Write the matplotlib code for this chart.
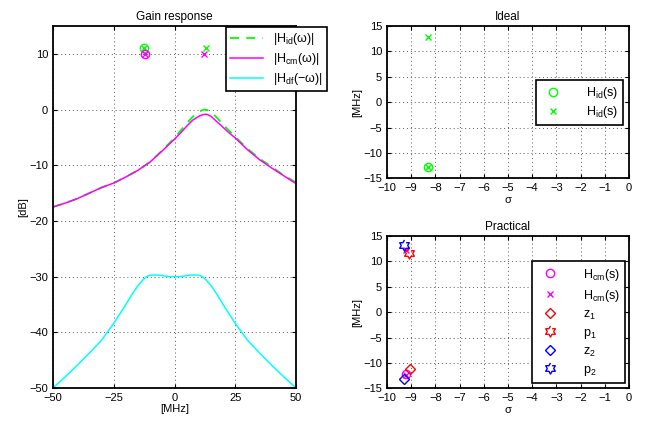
import numpy as np
import matplotlib
matplotlib.use('Agg')
import matplotlib.pyplot as plt

plt.rcParams['font.family'] = ['Liberation Sans', 'DejaVu Sans']
plt.rcParams['font.size'] = 8
plt.rcParams['mathtext.fontset'] = 'custom'
plt.rcParams['mathtext.rm'] = 'Liberation Sans'

# gain response curves
f_mhz = [-50, -45, -40, -35, -30, -25, -20, -15, -10, -5, 0, 2.5, 5, 7.5, 10, 11.5, 12.5, 13.5, 15, 17.5, 20, 22.5, 25, 30, 35, 40, 45, 50]
h_id = [-17.5, -16.8, -16.0, -15.0, -14.0, -13.2, -12.1, -10.9, -9.4, -7.3, -5.1, -3.8, -2.5, -1.3, -0.45, -0.1, 0.0, -0.1, -0.4, -1.5, -2.7, -3.8, -4.9, -7.0, -8.8, -10.3, -11.8, -13.1]
h_cm = [-17.5, -16.8, -16.0, -15.0, -14.0, -13.2, -12.1, -10.9, -9.4, -7.4, -5.3, -4.2, -3.0, -1.9, -1.2, -0.95, -0.85, -0.9, -1.2, -2.2, -3.2, -4.2, -5.1, -7.2, -9.0, -10.5, -11.9, -13.3]
f_df = [-50, -45, -40, -35, -30, -25, -20, -17.5, -15, -13, -11.5, -10, -8, -6, -4, -2, 0,
        2, 4, 6, 8, 10, 11.5, 13, 15, 17.5, 20, 25, 30, 35, 40, 45, 50]
h_df = [-50.0, -48.0, -45.9, -43.7, -41.4, -38.4, -35.0, -33.2, -31.6, -30.6, -30.0, -29.75, -29.7, -29.75, -29.9, -30.0, -30.0,
        -30.0, -29.9, -29.75, -29.7, -29.75, -30.0, -30.6, -31.6, -33.2, -35.0, -38.4, -41.4, -43.7, -45.9, -48.0, -50.0]

# zeros / poles drawn on the gain plot (imag part, level)
id_zero_f, id_zero_db = [-12.4], [11.0]
id_pole_f, id_pole_db = [-12.4, 12.8], [11.0, 11.0]
cm_zero_f, cm_zero_db = [-12.2], [10.0]
cm_pole_f, cm_pole_db = [-12.2, 12.3], [10.0, 10.0]

# pole-zero maps
id_z_re, id_z_im = [-8.3], [-12.8]
id_p_re, id_p_im = [-8.3, -8.3], [12.8, -12.8]
cm_z_re, cm_z_im = [-9.2], [-12.1]
cm_p_re, cm_p_im = [-9.2, -9.2], [12.3, -12.3]
z1_re, z1_im = [-9.05], [-11.2]
p1_re, p1_im = [-9.1], [11.6]
z2_re, z2_im = [-9.3], [-13.2]
p2_re, p2_im = [-9.3], [13.3]

# MATLAB-like hexagram marker
ang = np.deg2rad(90 + 30 * np.arange(12))
rad = np.where(np.arange(12) % 2 == 0, 1.0, 0.577)
hexagram = list(zip(rad * np.cos(ang), rad * np.sin(ang)))

G, M, C = (0, 1, 0), (1, 0, 1), (0, 1, 1)


def style(ax):
    ax.grid(True, linestyle=(0, (1, 3)), color='0.35', linewidth=0.7)
    ax.tick_params(direction='in', top=True, right=True, length=3, width=0.8, labelsize=8)
    for s in ax.spines.values():
        s.set_linewidth(1.3)


def box(leg):
    leg.get_frame().set_linewidth(1.2)


fig = plt.figure(figsize=(6.45, 4.24), dpi=100)

ax1 = fig.add_axes([0.0822, 0.0849, 0.3767, 0.8538])
ax1.plot(f_mhz, h_id, color=G, linestyle=(0, (5, 4)), linewidth=1.3, label='|H$_{\\mathregular{id}}$(ω)|')
ax1.plot(f_mhz, h_cm, color=M, linewidth=1.1, label='|H$_{\\mathregular{cm}}$(ω)|')
ax1.plot(f_df, h_df, color=C, linewidth=1.1, label='|H$_{\\mathregular{df}}$(−ω)|')
ax1.plot(id_zero_f, id_zero_db, 'o', mfc='none', mec=G, ms=6, mew=1)
ax1.plot(id_pole_f, id_pole_db, 'x', color=G, ms=5, mew=1)
ax1.plot(cm_zero_f, cm_zero_db, 'o', mfc='none', mec=M, ms=6, mew=1)
ax1.plot(cm_pole_f, cm_pole_db, 'x', color=M, ms=5, mew=1)
ax1.set_xlim(-50, 50)
ax1.set_ylim(-50, 15)
ax1.set_xticks([-50, -25, 0, 25, 50])
ax1.set_yticks([-50, -40, -30, -20, -10, 0, 10])
ax1.set_title('Gain response', fontsize=8.5, pad=4)
ax1.set_xlabel('[MHz]', labelpad=1)
ax1.set_ylabel('[dB]', labelpad=1)
style(ax1)
box(ax1.legend(loc='upper left', bbox_to_anchor=(0.712, 0.998), borderaxespad=0, fancybox=False, edgecolor='k',
               framealpha=1, handlelength=2.6, borderpad=0.35, labelspacing=0.32, fontsize=9))

ax2 = fig.add_axes([0.600, 0.5795, 0.375, 0.3592])
ax2.plot(id_z_re, id_z_im, 'o', mfc='none', mec=G, ms=6, mew=1, label='H$_{\\mathregular{id}}$(s)')
ax2.plot(id_p_re, id_p_im, 'x', color=G, ms=4, mew=1, label='H$_{\\mathregular{id}}$(s)')
ax2.set_title('Ideal', fontsize=8.5, pad=4)
ax2.set_ylabel('[MHz]', labelpad=1)
ax2.set_xlabel('σ', labelpad=1)

ax3 = fig.add_axes([0.600, 0.0842, 0.375, 0.3592])
ax3.plot(cm_z_re, cm_z_im, 'o', mfc='none', mec=M, ms=6, mew=1, label='H$_{\\mathregular{cm}}$(s)')
ax3.plot(cm_p_re, cm_p_im, 'x', color=M, ms=4, mew=1, label='H$_{\\mathregular{cm}}$(s)')
ax3.plot(z1_re, z1_im, 'D', mfc='none', mec='r', ms=5, mew=1, label='z$_{\\mathregular{1}}$')
ax3.plot(p1_re, p1_im, marker=hexagram, ls='none', mfc='none', mec='r', ms=8, mew=1, label='p$_{\\mathregular{1}}$')
ax3.plot(z2_re, z2_im, 'D', mfc='none', mec='b', ms=5, mew=1, label='z$_{\\mathregular{2}}$')
ax3.plot(p2_re, p2_im, marker=hexagram, ls='none', mfc='none', mec='b', ms=8, mew=1, label='p$_{\\mathregular{2}}$')
ax3.set_title('Practical', fontsize=8.5, pad=4)
ax3.set_ylabel('[MHz]', labelpad=1)
ax3.set_xlabel('σ', labelpad=1)

for ax in (ax2, ax3):
    ax.set_xlim(-10, 0)
    ax.set_ylim(-15, 15)
    ax.set_xticks(range(-10, 1))
    ax.set_yticks(range(-15, 16, 5))
    style(ax)

box(ax2.legend(loc='upper right', bbox_to_anchor=(0.975, 0.645), borderaxespad=0, fancybox=False, edgecolor='k',
               framealpha=1, borderpad=0.4, labelspacing=0.25, fontsize=9, handletextpad=1.6))
box(ax3.legend(loc='upper right', bbox_to_anchor=(0.986, 0.836), borderaxespad=0, fancybox=False, edgecolor='k',
               framealpha=1, borderpad=0.45, labelspacing=0.4, fontsize=9, handletextpad=1.6))

plt.savefig('out.png', dpi=100)
